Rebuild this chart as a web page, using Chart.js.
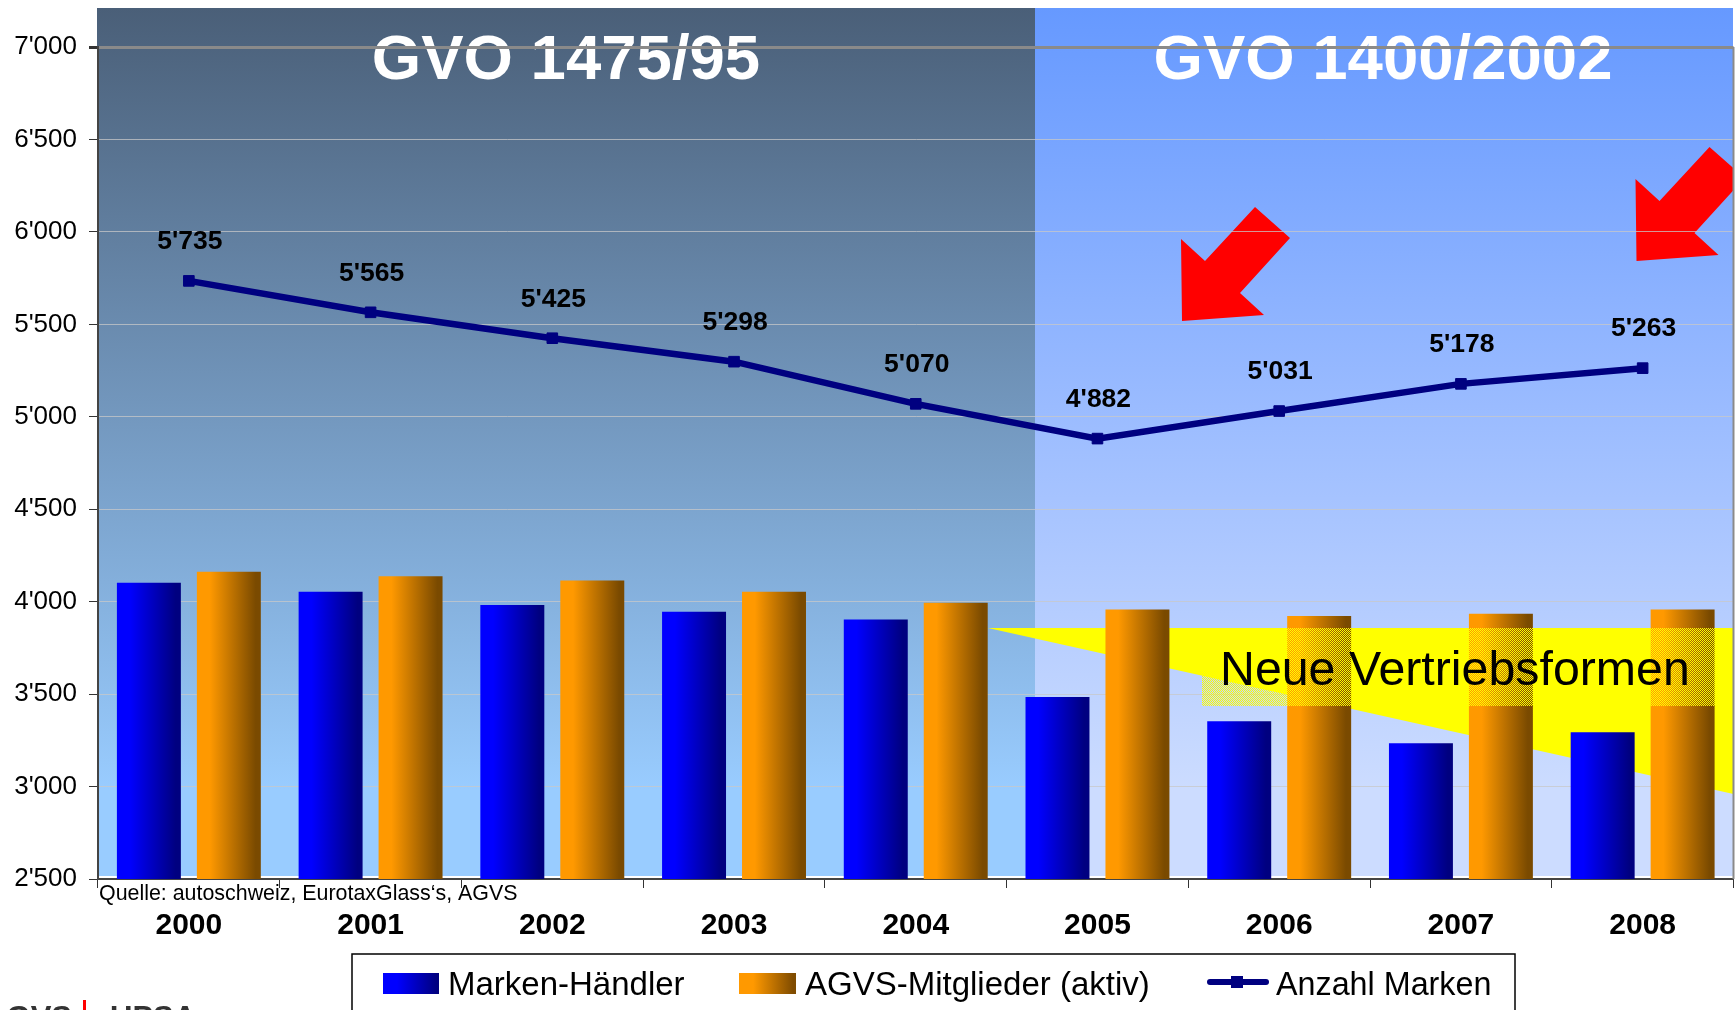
<!DOCTYPE html>
<html>
<head>
<meta charset="utf-8">
<title>Marken-Händler</title>
<style>
  html, body { margin: 0; padding: 0; background: #fff; overflow: hidden; }
  #wrap { width: 1735px; height: 1010px; position: relative; overflow: hidden; }
</style>
<script src="https://cdn.jsdelivr.net/npm/chart.js@4/dist/chart.umd.min.js"></script>
</head>
<body>
<div id="wrap"><canvas id="chart" width="1742" height="1010"></canvas></div>
<script>
const years = ["2000", "2001", "2002", "2003", "2004", "2005", "2006", "2007", "2008"];
const haendler = [4102, 4054, 3982, 3946, 3904, 3485, 3353, 3234, 3294];
const mitglieder = [4162, 4138, 4114, 4054, 3994, 3958, 3922, 3934, 3958];
const marken = [5735, 5565, 5425, 5298, 5070, 4882, 5031, 5178, 5263];
const markenLabels = ["5'735", "5'565", "5'425", "5'298", "5'070", "4'882", "5'031", "5'178", "5'263"];
const yTicks = ["2'500", "3'000", "3'500", "4'000", "4'500", "5'000", "5'500", "6'000", "6'500", "7'000"];

const FONT = '"Liberation Sans", Arial, sans-serif';
const CAT_PCT = 0.88;
const BAR_PCT = 0.8;

// horizontal bar gradient, worked out from the scale since the bars are not placed yet
function barFill(context, c0, c1) {
    const chart = context.chart;
    const xs = chart.scales.x;
    if (!xs) return c0;
    const step = xs.getPixelForTick(1) - xs.getPixelForTick(0);
    const slot = step * CAT_PCT / 2;
    const w = slot * BAR_PCT;
    const mid = xs.getPixelForTick(context.dataIndex) + (context.datasetIndex == 0 ? -slot / 2 : slot / 2);
    const g = chart.ctx.createLinearGradient(mid - w / 2, 0, mid + w / 2, 0);
    g.addColorStop(0, c0);
    g.addColorStop(0.2, c0);
    g.addColorStop(0.92, c1);
    g.addColorStop(1, c1);
    return g;
}

function poly(ctx, pts, color) {
    ctx.fillStyle = color;
    ctx.beginPath();
    pts.forEach((p, i) => i ? ctx.lineTo(p[0], p[1]) : ctx.moveTo(p[0], p[1]));
    ctx.closePath();
    ctx.fill();
}

function arrow(ctx, dx, dy) {
    const pts = [[1255, 207], [1290, 238], [1240, 293], [1264, 315], [1182, 321], [1181, 239], [1205, 261]];
    poly(ctx, pts.map(p => [p[0] + dx, p[1] + dy]), "#ff0000");
}

// 1px checker of yellow, the text box is dithered in the original
function ditherYellow(ctx) {
    const c = document.createElement("canvas");
    c.width = 2;
    c.height = 2;
    const p = c.getContext("2d");
    p.fillStyle = "#ffff00";
    p.fillRect(0, 0, 1, 1);
    p.fillRect(1, 1, 1, 1);
    return ctx.createPattern(c, "repeat");
}

const panels = {
    id: "panels",
    beforeDraw(chart) {
        const ctx = chart.ctx;
        ctx.save();
        let g = ctx.createLinearGradient(0, 8, 0, 790);
        g.addColorStop(0, "#4a5f78");
        g.addColorStop(1, "#99ccff");
        ctx.fillStyle = g;
        ctx.fillRect(97, 8, 938, 868);
        g = ctx.createLinearGradient(0, 8, 0, 790);
        g.addColorStop(0, "#6699ff");
        g.addColorStop(1, "#ccdcff");
        ctx.fillStyle = g;
        ctx.fillRect(1035, 8, 698, 868);

        ctx.fillStyle = "#fff";
        ctx.font = "bold 63.5px " + FONT;
        ctx.textAlign = "center";
        ctx.textBaseline = "middle";
        ctx.fillText("GVO 1475/95", 566, 61);
        ctx.fillText("GVO 1400/2002", 1383, 61);

        ctx.beginPath();
        ctx.rect(0, 0, 1733, 1010);
        ctx.clip();
        arrow(ctx, 0, 0);
        arrow(ctx, 454.5, -60);
        ctx.restore();
    },
    beforeDatasetsDraw(chart) {
        const ctx = chart.ctx;
        const a = chart.chartArea;
        ctx.save();
        poly(ctx, [[988, 628], [a.right, 628], [a.right, 794]], "#ffff00");
        // right edge of the plot
        ctx.strokeStyle = "#8a8a8a";
        ctx.lineWidth = 2;
        ctx.beginPath();
        ctx.moveTo(a.right, a.top);
        ctx.lineTo(a.right, a.bottom);
        ctx.stroke();
        ctx.restore();
    },
    afterDatasetsDraw(chart) {
        const ctx = chart.ctx;
        ctx.save();
        // the text box over the bars
        ctx.fillStyle = ditherYellow(ctx);
        ctx.fillRect(1202, 628, 513, 78);

        ctx.fillStyle = "#000";
        ctx.font = "48.3px " + FONT;
        ctx.textAlign = "left";
        ctx.textBaseline = "middle";
        ctx.fillText("Neue Vertriebsformen", 1220, 672);

        // labels of the line
        const meta = chart.getDatasetMeta(2);
        ctx.font = "bold 26.5px " + FONT;
        ctx.textAlign = "center";
        meta.data.forEach((pt, i) => {
            ctx.fillText(markenLabels[i], pt.x + 1, pt.y - 39);
        });

        ctx.font = "21.4px " + FONT;
        ctx.textAlign = "left";
        ctx.fillText("Quelle: autoschweiz, EurotaxGlass‘s, AGVS", 99, 894);

        drawLegend(ctx, chart);

        // logo, cut off by the page edge
        ctx.font = "bold 31px " + FONT;
        ctx.fillStyle = "#333";
        ctx.textBaseline = "alphabetic";
        ctx.textAlign = "right";
        ctx.fillText("AGVS", 72, 1028);
        ctx.textAlign = "left";
        ctx.fillText("UPSA", 110, 1028);
        ctx.fillStyle = "#ff0000";
        ctx.fillRect(83, 1000, 3, 10);
        ctx.restore();
    }
};

function drawLegend(ctx, chart) {
    const sets = chart.data.datasets;
    ctx.strokeStyle = "#000";
    ctx.lineWidth = 1.5;
    ctx.strokeRect(352, 954, 1163, 70);

    let g = ctx.createLinearGradient(383, 0, 439, 0);
    g.addColorStop(0, "#0000ff");
    g.addColorStop(0.25, "#0000ff");
    g.addColorStop(0.95, "#000080");
    ctx.fillStyle = g;
    ctx.fillRect(383, 973, 56, 21);

    g = ctx.createLinearGradient(739, 0, 796, 0);
    g.addColorStop(0, "#ff9900");
    g.addColorStop(0.25, "#ff9900");
    g.addColorStop(0.95, "#804c00");
    ctx.fillStyle = g;
    ctx.fillRect(739, 973, 57, 21);

    ctx.strokeStyle = "#000080";
    ctx.lineWidth = 6;
    ctx.lineCap = "round";
    ctx.beginPath();
    ctx.moveTo(1210, 982);
    ctx.lineTo(1266, 982);
    ctx.stroke();
    ctx.fillStyle = "#000080";
    ctx.fillRect(1231, 976, 12, 12);

    ctx.fillStyle = "#000";
    ctx.font = "33px " + FONT;
    ctx.textAlign = "left";
    ctx.textBaseline = "middle";
    ctx.fillText(sets[0].label, 448, 986);
    ctx.fillText(sets[1].label, 805, 986);
    ctx.font = "32.3px " + FONT;
    ctx.fillText(sets[2].label, 1276, 986);
}

new Chart(document.getElementById("chart"), {
    data: {
        labels: years,
        datasets: [
            {
                type: "bar",
                label: "Marken-Händler",
                data: haendler,
                backgroundColor: (c) => barFill(c, "#0000ff", "#000080"),
                categoryPercentage: CAT_PCT,
                barPercentage: BAR_PCT,
                order: 2
            },
            {
                type: "bar",
                label: "AGVS-Mitglieder (aktiv)",
                data: mitglieder,
                backgroundColor: (c) => barFill(c, "#ff9900", "#7a4a00"),
                categoryPercentage: CAT_PCT,
                barPercentage: BAR_PCT,
                order: 2
            },
            {
                type: "line",
                label: "Anzahl Marken",
                data: marken,
                borderColor: "#000080",
                borderWidth: 6.5,
                tension: 0,
                pointStyle: "rect",
                pointRadius: 7.5,
                pointBackgroundColor: "#000080",
                pointBorderColor: "#000080",
                pointBorderWidth: 1,
                order: 1
            }
        ]
    },
    options: {
        responsive: false,
        animation: false,
        layout: { padding: { top: 47, right: 0, left: 0, bottom: 0 } },
        plugins: {
            legend: { display: false },
            tooltip: { enabled: false },
            title: { display: false }
        },
        scales: {
            x: {
                afterFit: (s) => { s.height = 131; s.paddingLeft = 0; s.paddingRight = 0; },
                grid: {
                    drawOnChartArea: false,
                    drawTicks: true,
                    tickLength: 9,
                    tickColor: "#333"
                },
                border: { color: "#444", width: 2 },
                ticks: {
                    color: "#000",
                    font: { family: FONT, size: 30, weight: "bold" },
                    padding: 20,
                    maxRotation: 0
                }
            },
            y: {
                min: 2500,
                max: 7000,
                afterFit: (s) => { s.width = 98; },
                grid: {
                    color: (c) => c.tick && c.tick.value == 7000 ? "#8a8a8a" : "rgba(200,200,200,0.75)",
                    lineWidth: (c) => c.tick && c.tick.value == 7000 ? 3 : 1,
                    tickColor: "#333",
                    tickLength: 9
                },
                border: { color: "#444", width: 2 },
                ticks: {
                    stepSize: 500,
                    color: "#000",
                    font: { family: FONT, size: 26 },
                    padding: 12,
                    callback: (v, i) => yTicks[i]
                }
            }
        }
    },
    plugins: [panels]
});
</script>
</body>
</html>
